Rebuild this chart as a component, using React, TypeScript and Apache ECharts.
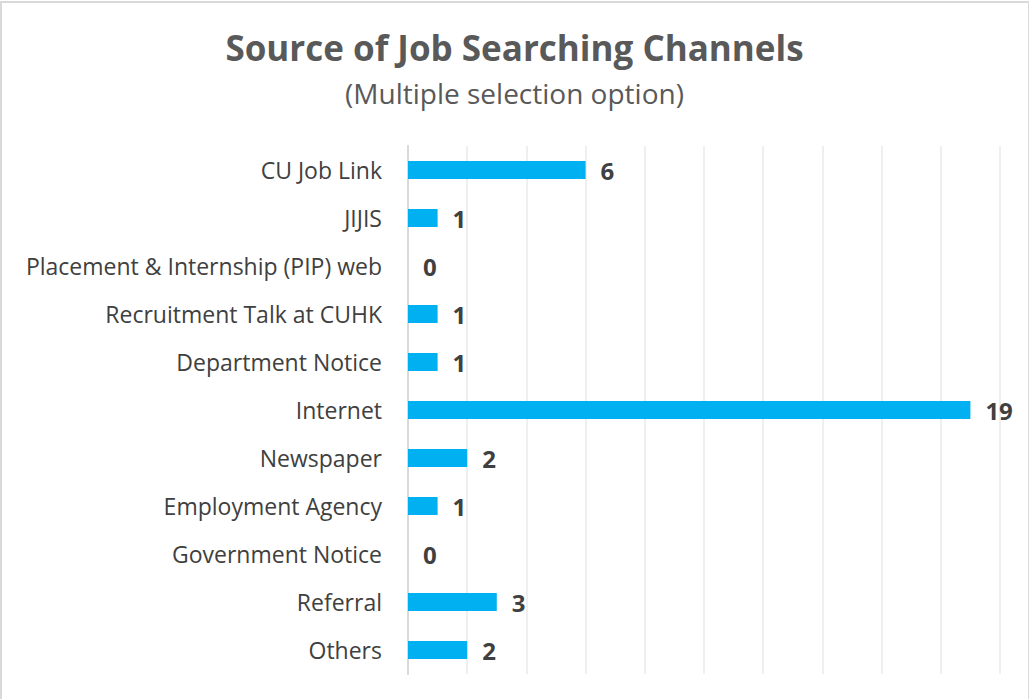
import React, { useEffect, useRef } from "react";
import * as echarts from "echarts";

const categories = [
  "CU Job Link",
  "JIJIS",
  "Placement & Internship (PIP) web",
  "Recruitment Talk at CUHK",
  "Department Notice",
  "Internet",
  "Newspaper",
  "Employment Agency",
  "Government Notice",
  "Referral",
  "Others",
];
const values = [6, 1, 0, 1, 1, 19, 2, 1, 0, 3, 2];

const titleText = "Source of Job Searching Channels";
const subtitleText = "(Multiple selection option)";
const FONT = "'Open Sans', 'Noto Sans', sans-serif";

export default function App() {
  const ref = useRef<HTMLDivElement>(null);
  useEffect(() => {
    if (!ref.current) return;
    const chart = echarts.init(ref.current, undefined, { renderer: "svg" });
    chart.setOption({
      animation: false,
      backgroundColor: "#ffffff",
      title: [
        {
          text: titleText,
          left: "center",
          top: 25,
          textStyle: { fontFamily: FONT, fontSize: 35, fontWeight: "bold", color: "#595959" },
        },
        {
          text: subtitleText,
          left: "center",
          top: 74,
          textStyle: { fontFamily: FONT, fontSize: 28, fontWeight: "normal", color: "#595959" },
        },
      ],
      grid: { left: 408, right: 29, top: 146, bottom: 25, containLabel: false },
      xAxis: {
        type: "value",
        min: 0,
        max: 20,
        interval: 2,
        axisLabel: { show: false },
        axisLine: { show: false },
        axisTick: { show: false },
        splitLine: { show: true, lineStyle: { color: "#efefef", width: 2 } },
      },
      yAxis: {
        type: "category",
        data: categories,
        inverse: true,
        axisLine: { show: true, lineStyle: { color: "#d9d9d9", width: 2 } },
        axisTick: { show: false },
        axisLabel: {
          fontFamily: FONT,
          fontSize: 23,
          color: "#404040",
          margin: 26,
        },
      },
      series: [
        {
          type: "bar",
          data: values,
          barWidth: 18,
          itemStyle: { color: "#00b0f0" },
          label: {
            show: true,
            position: "right",
            distance: 15,
            fontFamily: FONT,
            fontSize: 24,
            fontWeight: "bold",
            color: "#404040",
          },
        },
      ],
    });
    return () => chart.dispose();
  }, []);
  return (
    <div
      style={{
        position: "fixed",
        left: 0,
        top: 0,
        width: 1029,
        height: 699,
        background: "#fff",
      }}
    >
      <div
        ref={ref}
        style={{
          position: "absolute",
          left: 0,
          top: 0,
          width: 1029,
          height: 699,
        }}
      />
      <div
        style={{
          position: "absolute",
          left: 0,
          top: 1,
          width: 1026,
          height: 720,
          border: "2px solid #d9d9d9",
          pointerEvents: "none",
        }}
      />
    </div>
  );
}
